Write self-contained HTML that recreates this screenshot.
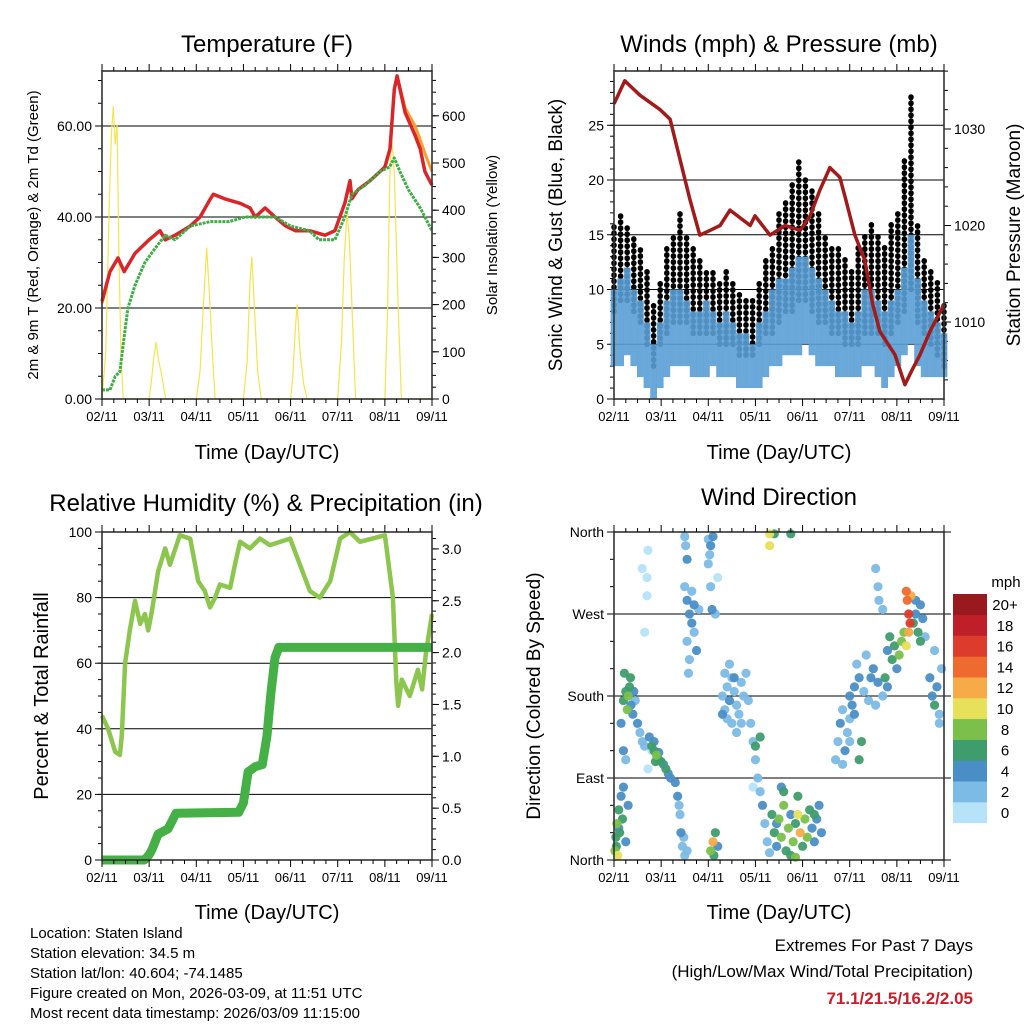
<!DOCTYPE html>
<html><head><meta charset="utf-8"><style>
html,body{margin:0;padding:0;background:#fff;}
svg{display:block;font-family:"Liberation Sans",Arial,sans-serif;}
</style></head><body>
<svg id="root" width="1024" height="1024" viewBox="0 0 1024 1024" xmlns="http://www.w3.org/2000/svg">
<rect x="0" y="0" width="1024" height="1024" fill="#fff"/>
<text x="267" y="52" font-size="24" text-anchor="middle">Temperature (F)</text>
<text x="779" y="52" font-size="24" text-anchor="middle">Winds (mph) &amp; Pressure (mb)</text>
<text x="266" y="511" font-size="24" text-anchor="middle">Relative Humidity (%) &amp; Precipitation (in)</text>
<text x="779" y="505" font-size="24" text-anchor="middle">Wind Direction</text>
<text x="267" y="459" font-size="20" text-anchor="middle">Time (Day/UTC)</text>
<text x="779" y="459" font-size="20" text-anchor="middle">Time (Day/UTC)</text>
<text x="267" y="919" font-size="20" text-anchor="middle">Time (Day/UTC)</text>
<text x="779" y="919" font-size="20" text-anchor="middle">Time (Day/UTC)</text>
<text transform="translate(38,235) rotate(-90)" font-size="15" text-anchor="middle">2m &amp; 9m T (Red, Orange) &amp; 2m Td (Green)</text>
<text transform="translate(497,235) rotate(-90)" font-size="15" text-anchor="middle">Solar Insolation (Yellow)</text>
<text transform="translate(562,235) rotate(-90)" font-size="19" text-anchor="middle">Sonic Wind &amp; Gust (Blue, Black)</text>
<text transform="translate(1020,235) rotate(-90)" font-size="19" text-anchor="middle">Station Pressure (Maroon)</text>
<text transform="translate(48,696) rotate(-90)" font-size="20" text-anchor="middle">Percent &amp; Total Rainfall</text>
<text transform="translate(540,696) rotate(-90)" font-size="19" text-anchor="middle">Direction (Colored By Speed)</text>
<g font-size="15">
<text x="30" y="938">Location: Staten Island</text>
<text x="30" y="958">Station elevation: 34.5 m</text>
<text x="30" y="978">Station lat/lon: 40.604; -74.1485</text>
<text x="30" y="998">Figure created on Mon, 2026-03-09, at 11:51 UTC</text>
<text x="30" y="1018">Most recent data timestamp: 2026/03/09 11:15:00</text>
</g>
<text x="973" y="951" font-size="17" text-anchor="end">Extremes For Past 7 Days</text>
<text x="973" y="977" font-size="17" text-anchor="end">(High/Low/Max Wind/Total Precipitation)</text>
<text x="973" y="1004" font-size="17" font-weight="bold" fill="#c8202a" text-anchor="end">71.1/21.5/16.2/2.05</text>
<g id="charts"></g>
</svg>
<script>
const dayLabels=["02/11","03/11","04/11","05/11","06/11","07/11","08/11","09/11"];
// Temperature
const tempT=[0,0.17,0.34,0.47,0.7,1.0,1.23,1.34,1.55,1.87,2.08,2.3,2.36,2.6,2.93,3.14,3.25,3.46,3.67,3.9,4.1,4.4,4.73,4.94,5.15,5.26,5.3,5.43,5.69,5.9,6.0,6.11,6.2,6.26,6.43,6.64,6.75,6.85,7.0];
const temp2m=[21.5,28,31,28,32,35,37,35,36,38,40,44,45,44,43,42,40,42,40,38,37,37,36,37,43,48,44,46,48,50,51,55,68,71,63,58,55,50,47];
const temp9m=[21,28,31,28,32,35,37,35,36,38,40,44,45,44,43,42,40,42,40,38,37,37,36,37,43,48,44,46,48,50,51,55,68,71,64,60,57,54,50];
const dewT=[0,0.17,0.28,0.38,0.45,0.55,0.7,0.91,1.12,1.34,1.55,1.87,2.3,2.7,3.03,3.35,3.67,4.0,4.4,4.6,4.94,5.15,5.3,5.58,5.9,6.1,6.2,6.32,6.5,6.75,7.0];
const dewVals=[2,2,5,6,12,20,25,30,33,36,35,38,39,39,40,40,40,38,37,35,35,40,45,47,50,51,53,50,46,42,37];
const solarT=[0,0.08,0.15,0.2,0.24,0.28,0.32,0.36,0.4,0.45,1.0,1.05,1.1,1.15,1.2,1.25,1.3,1.35,2.0,2.08,2.15,2.22,2.28,2.33,2.4,3.0,3.08,3.14,3.18,3.24,3.3,3.38,4.0,4.05,4.1,4.14,4.2,4.28,4.35,5.0,5.08,5.14,5.2,5.25,5.3,5.38,6.0,6.06,6.1,6.14,6.2,6.28,6.35,7.0];
const solarVals=[0,100,400,560,620,540,580,300,100,0,0,40,90,120,80,60,30,0,0,60,200,320,220,120,0,0,80,250,300,180,60,0,0,50,150,200,100,30,0,0,120,300,400,330,200,0,0,200,450,560,480,200,0,0];
const tempLeftTicks=[0,20,40,60];
const tempLeftLabels=["0.00","20.00","40.00","60.00"];
const solarTicks=[0,100,200,300,400,500,600];
// Winds
const windT=[0,0.14,0.28,0.42,0.56,0.7,0.84,0.98,1.12,1.26,1.4,1.54,1.68,1.82,1.96,2.1,2.24,2.38,2.52,2.66,2.8,2.94,3.08,3.22,3.36,3.5,3.64,3.78,3.92,4.06,4.2,4.34,4.48,4.62,4.76,4.9,5.04,5.18,5.32,5.46,5.6,5.74,5.88,6.02,6.16,6.3,6.44,6.58,6.72,6.86,7.0];
const windLow=[3,3,4,3,2,1,0,1,2,3,3,3,2,2,2,3,2,2,2,1,1,1,1,2,3,3,4,4,4,5,4,3,3,3,2,2,2,2,3,3,2,1,2,3,4,5,3,2,2,2,2];
const windHigh=[10,11,12,10,9,7,5,7,9,10,10,9,8,8,9,8,7,8,7,6,6,5,7,8,10,11,11,12,13,13,12,11,10,9,8,8,7,8,10,10,9,8,9,10,12,15,11,9,8,7,6];
const gustLow=[8,9,9,8,7,5,3,5,6,7,7,7,6,6,6,6,5,5,5,4,4,4,5,6,6,7,8,8,9,9,8,7,7,6,6,5,5,5,6,6,6,5,6,7,8,10,7,6,5,4,3];
const gustHigh=[16,17,16,15,14,12,9,11,14,15,17,15,14,13,12,12,11,12,11,10,9,9,11,13,14,17,18,20,22,20,19,17,15,14,14,13,12,14,15,16,15,14,16,17,22,28,16,13,12,11,9];
const presT=[0,0.23,0.55,0.98,1.19,1.61,1.82,2.04,2.25,2.46,2.89,2.99,3.31,3.63,3.95,4.16,4.37,4.58,4.79,4.9,5.11,5.32,5.49,5.64,5.96,6.17,6.32,6.49,6.7,7.0];
const presVals=[1032.6,1035,1033.5,1032,1031,1022.7,1019,1019.5,1020,1021.6,1020,1021,1019,1020,1019.5,1021,1023.7,1026,1025,1023,1019,1016.4,1011.8,1009,1006.6,1003.5,1005,1006.6,1009,1011.8];
const windTicks=[0,5,10,15,20,25];
const presTicks=[1010,1020,1030];
// Humidity & precip
const rhT=[0,0.13,0.28,0.38,0.42,0.49,0.59,0.7,0.81,0.91,0.98,1.06,1.19,1.34,1.44,1.65,1.87,2.04,2.18,2.29,2.4,2.5,2.72,2.82,2.93,3.14,3.35,3.56,3.99,4.2,4.41,4.62,4.84,5.05,5.26,5.47,6.0,6.17,6.24,6.28,6.36,6.53,6.7,6.79,6.87,7.0];
const rhVals=[44,40,33,32,38,60,70,79,72,75,70,76,88,95,90,99,98,85,82,77,80,84,83,90,97,95,98,96,98,90,82,80,85,98,100,97,99,80,55,47,55,50,58,52,63,75];
const precipT=[0,0.9,1.0,1.06,1.19,1.4,1.57,2.9,3.0,3.1,3.25,3.4,3.5,3.58,3.67,3.75,4.0,7.0];
const precipVals=[0,0,0.05,0.1,0.25,0.3,0.45,0.46,0.55,0.85,0.9,0.92,1.2,1.6,1.95,2.05,2.05,2.05];
const rhTicks=[0,20,40,60,80,100];
const precipTicks=[0,0.5,1,1.5,2,2.5,3];
const precipLabels=["0.0","0.5","1.0","1.5","2.0","2.5","3.0"];
// Wind direction
const wdT=[0.02,0.04,0.06,0.08,0.1,0.12,0.15,0.18,0.2,0.25,0.3,0.05,0.1,
0.15,0.2,0.25,0.28,0.3,0.33,0.36,0.4,0.45,0.5,0.55,0.6,0.2,0.25,0.35,0.42,0.22,0.65,
0.7,0.72,0.7,0.65,0.6,0.72,0.8,
0.75,0.8,0.85,0.9,0.95,1.0,1.05,1.1,1.15,1.2,0.85,0.95,1.3,0.88,
1.35,1.4,1.42,1.45,1.5,1.38,1.48,1.55,
1.5,1.55,1.6,1.65,1.7,1.55,1.6,1.75,1.7,1.58,1.8,1.65,
1.5,1.52,1.55,2.0,2.05,2.03,2.1,2.0,2.05,2.08,2.15,2.2,
2.05,2.1,2.12,2.15,2.2,
2.3,2.35,2.4,2.45,2.5,2.55,2.6,2.65,2.7,2.75,2.8,2.85,2.4,2.5,2.6,2.7,2.35,2.45,2.3,2.55,
2.9,2.95,3.0,3.05,3.1,3.15,3.0,3.1,3.2,3.25,3.3,2.95,
3.35,3.4,3.45,3.5,3.55,3.6,3.65,3.7,3.75,3.8,3.85,3.9,3.95,4.0,4.05,4.1,4.15,4.2,4.25,4.3,4.35,4.4,3.6,3.55,3.9,4.25,3.45,3.75,3.85,
3.3,3.3,3.4,3.75,
4.7,4.75,4.8,4.85,4.9,4.95,5.0,5.05,4.85,5.0,5.1,5.2,5.25,
5.0,5.1,5.2,5.3,5.4,5.45,5.5,5.6,5.7,5.75,5.8,5.35,5.15,5.55,
5.55,5.6,5.62,5.7,
5.8,5.85,5.9,5.95,6.0,6.05,6.1,6.15,6.2,
6.2,6.22,6.25,6.28,6.25,6.3,
6.35,6.4,6.45,6.5,6.55,6.6,6.4,6.5,
6.7,6.75,6.8,6.85,6.9,6.95,6.8,6.9];
const wdDir=[10,25,40,5,55,30,70,45,80,20,60,15,35,
150,175,185,165,180,190,170,160,175,150,140,130,120,110,200,185,205,125,
310,340,290,250,320,100,120,
135,125,120,115,110,108,105,100,95,90,130,118,85,108,
70,50,30,15,5,60,25,10,
300,285,270,260,250,240,220,230,280,205,275,295,
355,345,330,352,345,335,355,325,300,275,270,310,
10,20,5,30,15,
180,165,190,175,200,185,170,160,195,180,205,175,155,150,140,150,205,215,160,200,
150,130,110,90,75,60,125,135,40,20,8,80,
50,30,15,45,25,60,10,35,5,20,40,50,30,15,45,25,55,35,20,45,60,30,75,80,70,50,40,50,3,
358,345,358,358,
110,130,150,165,120,140,155,170,105,130,160,110,130,
180,190,200,185,175,200,210,195,180,200,190,225,215,170,
320,300,285,275,
230,245,220,235,210,225,240,250,235,
295,285,270,260,250,290,
260,270,250,280,265,245,285,240,
200,180,170,190,160,210,230,150];
const wdSpd=[9,7,8,10,6,7,5,6,4,5,4,6,5,
4,6,7,8,9,6,5,4,3,4,3,3,4,3,6,4,6,2,
1,1,1,1,1,1,1,
5,6,7,9,7,6,5,6,4,4,4,5,5,6,
4,3,4,3,3,3,3,3,
3,4,4,5,3,2,2,4,5,2,3,3,
3,3,4,3,4,3,5,3,3,4,3,1,
8,12,6,7,4,
2,2,3,4,2,3,3,2,2,3,2,2,2,2,2,3,2,3,5,4,
3,3,2,3,2,4,6,6,2,2,2,1,
6,7,5,8,9,8,6,9,7,8,6,10,12,7,8,9,6,5,5,4,4,5,7,4,7,6,4,5,8,
10,10,7,6,
3,3,4,3,4,3,3,4,3,2,5,6,6,
4,5,4,3,3,5,4,5,3,6,4,3,3,3,
2,3,3,2,
5,6,7,7,4,8,9,8,10,
14,15,17,16,13,12,
7,5,6,4,5,3,4,6,
4,5,6,4,3,3,3,2];
const dirTicks=[0,90,180,270,360];
const dirLabels=["North","East","South","West","North"];
const cbLabels=["0","2","4","6","8","10","12","14","16","18","20+"];
const cbColors=["#b6e3f8","#7cbbe6","#4a8ec6","#3f9d6d","#7ac04b","#e7e05b","#f6aa48","#ef6a2e","#dd3b2c","#bf1f29","#9a191e"];

const NS="http://www.w3.org/2000/svg";
const G=document.getElementById('charts');
function mk(tag,attrs,parent){const e=document.createElementNS(NS,tag);for(const k in attrs)e.setAttribute(k,attrs[k]);(parent||G).appendChild(e);return e;}
function pathD(ts,vs,fx,fy){return ts.map((t,i)=>(i?'L':'M')+fx(t).toFixed(1)+','+fy(vs[i]).toFixed(1)).join('');}

function panelFrame(p,name){
  const g=mk('g',{});
  
  
  for(let i=0;i<=28;i++){
    const x=p.x0+i/28*(p.x1-p.x0);const L=(i%4===0)?7:4;
    const t1=mk('line',{x1:x,y1:p.y1,x2:x,y2:p.y1+L,stroke:'#000','stroke-width':1},g);
    
    
    const t2=mk('line',{x1:x,y1:p.y0,x2:x,y2:p.y0-L,stroke:'#000','stroke-width':1},g);
    
    
  }
  dayLabels.forEach((lb,i)=>{
    const t=mk('text',{x:p.x0+i/7*(p.x1-p.x0),y:p.y1+22,'font-size':13,'text-anchor':'middle'},g);
    t.textContent=lb;
    
    
  });
  return g;
}
function gridAndLeft(p,ticks,labels,fy,minorStep,lo,hi,grid,name){
  ticks.forEach((v,i)=>{
    const y=fy(v);
    if(grid&&y>p.y0+1&&y<p.y1-1){const l=mk('line',{x1:p.x0,y1:y,x2:p.x1,y2:y,stroke:'#000','stroke-width':1});
      
      }
    const tk=mk('line',{x1:p.x0-7,y1:y,x2:p.x0,y2:y,stroke:'#000'});
    
    
    const t=mk('text',{x:p.x0-10,y:y+5,'font-size':14,'text-anchor':'end'});
    t.textContent=labels[i];
    
    
  });
  if(minorStep){for(let v=lo;v<=hi+1e-9;v+=minorStep){const y=fy(v);if(y<p.y0||y>p.y1)continue;
    const m=mk('line',{x1:p.x0-4,y1:y,x2:p.x0,y2:y,stroke:'#000'});
    
    }}
}
function rightAxis(p,ticks,labels,fy,minorStep,lo,hi,name){
  ticks.forEach((v,i)=>{
    const y=fy(v);
    const tk=mk('line',{x1:p.x1,y1:y,x2:p.x1+7,y2:y,stroke:'#000'});
    
    
    const t=mk('text',{x:p.x1+10,y:y+5,'font-size':14,'text-anchor':'start'});
    t.textContent=labels[i];
    
    
  });
  if(minorStep){for(let v=lo;v<=hi+1e-9;v+=minorStep){const y=fy(v);if(y<p.y0||y>p.y1)continue;
    const m=mk('line',{x1:p.x1,y1:y,x2:p.x1+4,y2:y,stroke:'#000'});
    
    }}
}
function box(p,name){const r=mk('rect',{x:p.x0,y:p.y0,width:p.x1-p.x0,height:p.y1-p.y0,fill:'none',stroke:'#333','stroke-width':1.6});
  
  }

// ---- Panel 1: Temperature
const P1={x0:102,x1:432,y0:71,y1:399};
const x1f=d=>P1.x0+d/7*(P1.x1-P1.x0);
const y1L=v=>P1.y1-v*4.55;
const y1R=v=>P1.y1-v*0.472;
gridAndLeft(P1,tempLeftTicks,tempLeftLabels,y1L,5,0,70,true,'temp-y');
rightAxis(P1,solarTicks,solarTicks.map(String),y1R,25,0,675,'solar-y');
let e;
e=mk('path',{d:pathD(solarT,solarVals,x1f,y1R),fill:'none',stroke:'#f6e34f','stroke-width':1.2,'stroke-linejoin':'round'});


e=mk('path',{d:pathD(tempT,temp9m,x1f,y1L),fill:'none',stroke:'#f5a030','stroke-width':3,'stroke-linejoin':'round'});


e=mk('path',{d:pathD(tempT,temp2m,x1f,y1L),fill:'none',stroke:'#d8262a','stroke-width':3.5,'stroke-linejoin':'round'});


e=mk('path',{d:pathD(dewT,dewVals,x1f,y1L),fill:'none',stroke:'#3fae46','stroke-width':3,'stroke-linejoin':'round','stroke-dasharray':'3 1'});


box(P1,'temp');panelFrame(P1,'temp');

// ---- Panel 2: Winds
const P2={x0:614,x1:944,y0:71,y1:399};
const x2f=d=>P2.x0+d/7*(P2.x1-P2.x0);
const y2L=v=>P2.y1-v*10.95;
const y2R=v=>322-(v-1010)*9.65;
gridAndLeft(P2,windTicks,windTicks.map(String),y2L,1,0,29,true,'wind-y');
rightAxis(P2,presTicks,presTicks.map(String),y2R,2,1002,1036,'pressure-y');
windT.forEach((t,i)=>{
  const b=mk('line',{x1:x2f(t),y1:y2L(gustLow[i]),x2:x2f(t),y2:y2L(gustHigh[i]),stroke:'#000','stroke-width':5.5,'stroke-linecap':'round','stroke-dasharray':'0.5 5.5'});
  
  
});
windT.forEach((t,i)=>{
  const b=mk('line',{x1:x2f(t),y1:y2L(windLow[i]),x2:x2f(t),y2:y2L(windHigh[i]),stroke:'#5a9fd6','stroke-width':6.8,'stroke-opacity':0.9});
  
  
});
e=mk('path',{d:pathD(presT,presVals,x2f,y2R),fill:'none',stroke:'#a31a1a','stroke-width':3.5,'stroke-linejoin':'round'});


box(P2,'wind');panelFrame(P2,'wind');

// ---- Panel 3: Humidity
const P3={x0:102,x1:432,y0:532,y1:860};
const x3f=d=>P3.x0+d/7*(P3.x1-P3.x0);
const y3L=v=>P3.y1-v*3.28;
const y3R=v=>P3.y1-v*103.7;
gridAndLeft(P3,rhTicks,rhTicks.map(String),y3L,5,0,100,true,'rh-y');
rightAxis(P3,precipTicks,precipLabels,y3R,0.1,0,3.1,'precip-y');
e=mk('path',{d:pathD(rhT,rhVals,x3f,y3L),fill:'none',stroke:'#8dc64f','stroke-width':4.5,'stroke-linejoin':'round'});


e=mk('path',{d:pathD(precipT,precipVals,x3f,y3R),fill:'none',stroke:'#45b045','stroke-width':9,'stroke-linejoin':'round'});


box(P3,'rh');panelFrame(P3,'rh');

// ---- Panel 4: Wind direction
const P4={x0:614,x1:944,y0:532,y1:860};
const x4f=d=>P4.x0+d/7*(P4.x1-P4.x0);
const y4f=v=>P4.y1-v/360*328;
gridAndLeft(P4,dirTicks,dirLabels,y4f,30,0,360,true,'direction-y');
dirTicks.forEach(v=>{const t=mk('line',{x1:P4.x1,y1:y4f(v),x2:P4.x1+7,y2:y4f(v),stroke:'#000'});
  
  });
function spdColor(s){const i=Math.min(10,Math.max(0,Math.floor(s/2)));return cbColors[i];}
const order=wdT.map((t,i)=>i).sort((a,b)=>wdSpd[a]-wdSpd[b]);
order.forEach(i=>{
  const c=mk('circle',{cx:x4f(wdT[i]),cy:y4f(wdDir[i]),r:4.6,fill:spdColor(wdSpd[i]),'fill-opacity':0.95});
  
  
});
box(P4,'direction');panelFrame(P4,'direction');

// Colorbar
const cb=mk('g',{});


const cbTop=594,cbH=20.8;
cbColors.forEach((c,i)=>{
  const r=mk('rect',{x:953,y:cbTop+(10-i)*cbH,width:34,height:cbH+0.3,fill:c},cb);
  
  
  const t=mk('text',{x:1005,y:cbTop+(10-i)*cbH+16,'font-size':15,'text-anchor':'middle'},cb);
  t.textContent=cbLabels[i];
  
  
});
const cbt=mk('text',{x:1006,y:587,'font-size':15,'text-anchor':'middle'},cb);
cbt.textContent='mph';


</script>
</body></html>
